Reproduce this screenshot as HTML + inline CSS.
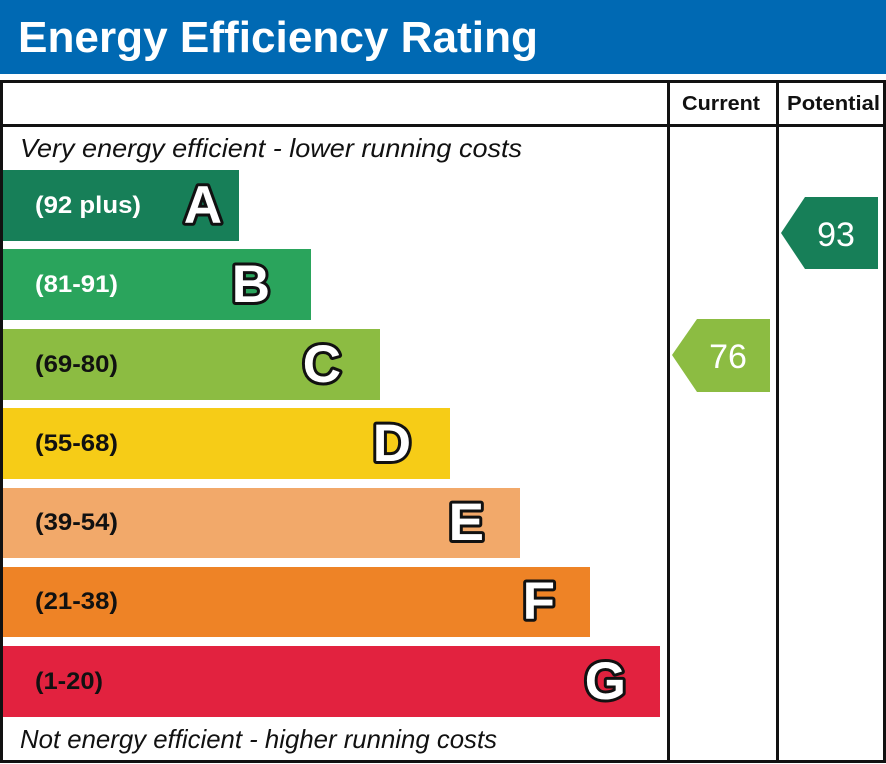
<!DOCTYPE html>
<html><head><meta charset="utf-8"><style>
html,body{margin:0;padding:0;background:#fff;}
svg{display:block;}
svg text{font-family:"Liberation Sans", Arial, sans-serif;}
</style></head><body>
<svg width="886" height="764" viewBox="0 0 886 764" xmlns="http://www.w3.org/2000/svg">
<rect x="0" y="0" width="886" height="764" fill="#fff"/>
<rect x="0" y="0" width="886" height="74" fill="#0069b3"/>
<text x="18" y="52" font-size="44" font-weight="bold" fill="#fff" textLength="520" lengthAdjust="spacingAndGlyphs">Energy Efficiency Rating</text>

<!-- table lines -->
<rect x="0" y="80" width="886" height="3" fill="#111"/>
<rect x="0" y="124" width="886" height="3" fill="#111"/>
<rect x="0" y="760" width="886" height="3" fill="#111"/>
<rect x="0" y="80" width="3" height="683" fill="#111"/>
<rect x="883" y="80" width="3" height="683" fill="#111"/>
<rect x="667" y="80" width="3" height="683" fill="#111"/>
<rect x="776" y="80" width="3" height="683" fill="#111"/>

<text x="682" y="110" font-size="20" font-weight="bold" fill="#111" textLength="78" lengthAdjust="spacingAndGlyphs">Current</text>
<text x="787" y="110" font-size="20" font-weight="bold" fill="#111" textLength="93" lengthAdjust="spacingAndGlyphs">Potential</text>

<text x="20" y="157" font-size="26" font-style="italic" fill="#111" textLength="502" lengthAdjust="spacingAndGlyphs">Very energy efficient - lower running costs</text>
<text x="20" y="748" font-size="26" font-style="italic" fill="#111" textLength="477" lengthAdjust="spacingAndGlyphs">Not energy efficient - higher running costs</text>

<!-- bars -->
<rect x="3" y="170" width="236" height="71" fill="#177f58"/>
<rect x="3" y="249" width="308" height="71" fill="#2aa45c"/>
<rect x="3" y="329" width="377" height="71" fill="#8cbc42"/>
<rect x="3" y="408" width="447" height="71" fill="#f6cc17"/>
<rect x="3" y="488" width="517" height="70" fill="#f2a96a"/>
<rect x="3" y="567" width="587" height="70" fill="#ee8326"/>
<rect x="3" y="646" width="657" height="71" fill="#e2223f"/>

<g font-size="24" font-weight="bold">
<text x="35" y="213" fill="#fff" textLength="106" lengthAdjust="spacingAndGlyphs">(92 plus)</text>
<text x="35" y="292" fill="#fff" textLength="83" lengthAdjust="spacingAndGlyphs">(81-91)</text>
<text x="35" y="372" fill="#111" textLength="83" lengthAdjust="spacingAndGlyphs">(69-80)</text>
<text x="35" y="451" fill="#111" textLength="83" lengthAdjust="spacingAndGlyphs">(55-68)</text>
<text x="35" y="530" fill="#111" textLength="83" lengthAdjust="spacingAndGlyphs">(39-54)</text>
<text x="35" y="609" fill="#111" textLength="83" lengthAdjust="spacingAndGlyphs">(21-38)</text>
<text x="35" y="689" fill="#111" textLength="68" lengthAdjust="spacingAndGlyphs">(1-20)</text>
</g>

<g font-size="53" font-weight="bold" fill="#fff" stroke="#111" stroke-width="6" stroke-linejoin="round" paint-order="stroke" text-anchor="end">
<text x="222" y="223">A</text>
<text x="270" y="302">B</text>
<text x="341" y="382">C</text>
<text x="411" y="461">D</text>
<text x="484" y="540">E</text>
<text x="555" y="619">F</text>
<text x="626" y="699">G</text>
</g>

<!-- arrows -->
<polygon points="672,355 697,319 770,319 770,392 697,392" fill="#8cbc42"/>
<text x="728" y="368" font-size="34" fill="#fff" text-anchor="middle">76</text>
<polygon points="781,233 805,197 878,197 878,269 805,269" fill="#177f58"/>
<text x="836" y="246" font-size="34" fill="#fff" text-anchor="middle">93</text>
</svg>
</body></html>
